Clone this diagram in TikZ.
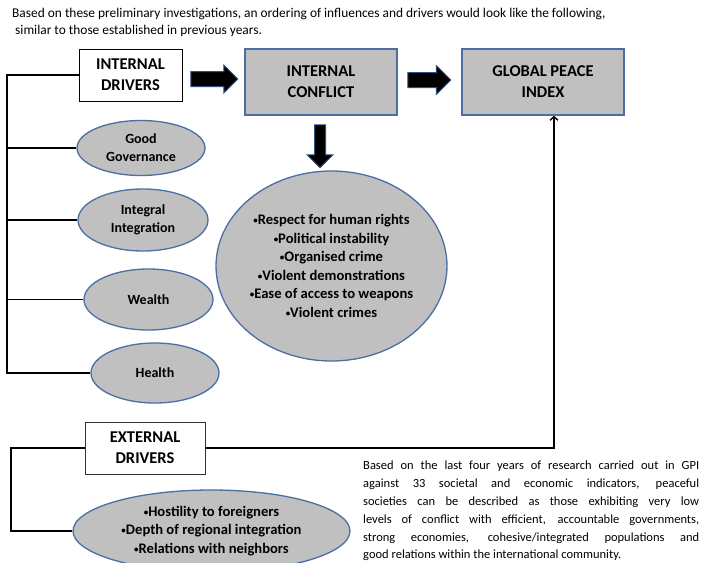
\documentclass[tikz,border=0pt]{standalone}
\usepackage{fontspec}
\setmainfont{Carlito}
\usepackage{tikz}
\usetikzlibrary{arrows.meta,shapes.geometric,shapes.arrows,positioning}
\definecolor{fillgray}{HTML}{C0C0C0}
\definecolor{edgeblue}{HTML}{4A6FA0}
\definecolor{arrowedge}{HTML}{2F4F80}
\newcommand{\bul}{\raisebox{0.15ex}{\fontsize{9}{9}\selectfont•}}
\tikzset{
	drvbox/.style = {rectangle, draw=black, fill=white, line width=0.8pt, align=center,
		inner sep=0pt, font=\fontsize{16.5}{21}\selectfont\bfseries},% white driver box
	grybox/.style = {rectangle, draw=edgeblue, fill=fillgray, line width=1.6pt, align=center,
		inner sep=0pt, font=\fontsize{16.5}{21}\selectfont\bfseries},% grey outcome box
	factor/.style = {ellipse, draw=edgeblue, fill=fillgray, line width=1.3pt, align=center,
		inner sep=0pt, font=\fontsize{14}{18}\selectfont\bfseries},% grey factor ellipse
	fatarrow/.style = {single arrow, draw=arrowedge, fill=black, line width=1pt,
		inner xsep=0pt, inner ysep=7pt, single arrow head extend=6.5pt},% thick block arrow
	tree/.style = {line width=1.4pt}
}

\begin{document}
\begin{tikzpicture}[x=1pt,y=-1pt,>={Straight Barb[length=3.5pt,width=8pt]}]
\clip (0,0) rectangle (703,562);
% intro text
\node [anchor=north west, align=left, inner sep=0pt, font=\fontsize{13.4}{16.7}\selectfont] (intro) at (12,8)
	{Based on these preliminary investigations, an ordering of influences and drivers would look like the following,\\
	\hspace*{3pt}similar to those established in previous years.};
% top row
\node [drvbox, minimum width=103pt, minimum height=52pt] (intdrv) at (130.5,75) {INTERNAL\\DRIVERS};
\node [grybox, minimum width=152pt, minimum height=66pt] (conflict) at (321,82) {INTERNAL\\CONFLICT};
\node [grybox, minimum width=162pt, minimum height=66pt] (gpi) at (543,82) {GLOBAL PEACE\\INDEX};
\node [fatarrow, minimum height=47pt] (arrA) at (210.5,79) {};
\node [fatarrow, minimum height=43pt, single arrow head extend=7pt] (arrB) at (425.5,80) {};
\node [fatarrow, rotate=-90, minimum height=43pt, inner ysep=5pt,
	single arrow head extend=7.5pt] (arrC) at (320,143.5) {};
% internal factors
\node [factor, minimum width=128pt, minimum height=55pt] (gov) at (141,148) {Good\\Governance};
\node [factor, minimum width=130pt, minimum height=62pt] (integ) at (143,220) {Integral\\Integration};
\node [factor, minimum width=129pt, minimum height=61pt] (wealth) at (148.5,299.5) {Wealth};
\node [factor, minimum width=128pt, minimum height=60pt] (health) at (155,373) {Health};
\node [factor, minimum width=229pt, minimum height=190pt, font=\fontsize{14.6}{18.5}\selectfont\bfseries] (conflist) at (331.5,266)
	{\bul Respect for human rights\\\bul Political instability\\\bul Organised crime\\\bul Violent demonstrations\\\bul Ease of access to weapons\\\bul Violent crimes};
% external drivers
\node [drvbox, draw=black!80, minimum width=120pt, minimum height=52pt] (extdrv) at (145,448) {EXTERNAL\\DRIVERS};
\node [factor, minimum width=277pt, minimum height=82pt, font=\fontsize{14.6}{18.5}\selectfont\bfseries] (extlist) at (211.5,531)
	{\bul Hostility to foreigners\\\bul Depth of regional integration\\\bul Relations with neighbors};
% summary text
\node [anchor=north west, text width=336pt, align=justify, inner sep=0pt, font=\fontsize{12.5}{17.8}\selectfont] (summary) at (363,461)
	{Based on the last four years of research carried out in GPI\linebreak
	against 33 societal and economic indicators, peaceful\linebreak
	societies can be described as those exhibiting very low\linebreak
	levels of conflict with efficient, accountable governments,\linebreak
	strong economies, cohesive/integrated populations and\linebreak
	good relations within the international community.};
% connectors
\coordinate (spine) at (7,0);
\coordinate (extspine) at (11,0);
\draw [tree] (intdrv.west) -- (intdrv.west -| spine) -- (health.west -| spine) -- (health.west);
\draw [tree] (gov.west) -- (gov.west -| spine);
\draw [tree] (integ.west) -- (integ.west -| spine);
\draw [tree] (wealth.west) -- (wealth.west -| spine);
\draw [tree] (extdrv.west) -- (extdrv.west -| extspine) |- (extlist.west);
\draw [tree,->] (extdrv.east) -| ([xshift=11pt]gpi.south);
\end{tikzpicture}
\end{document}
